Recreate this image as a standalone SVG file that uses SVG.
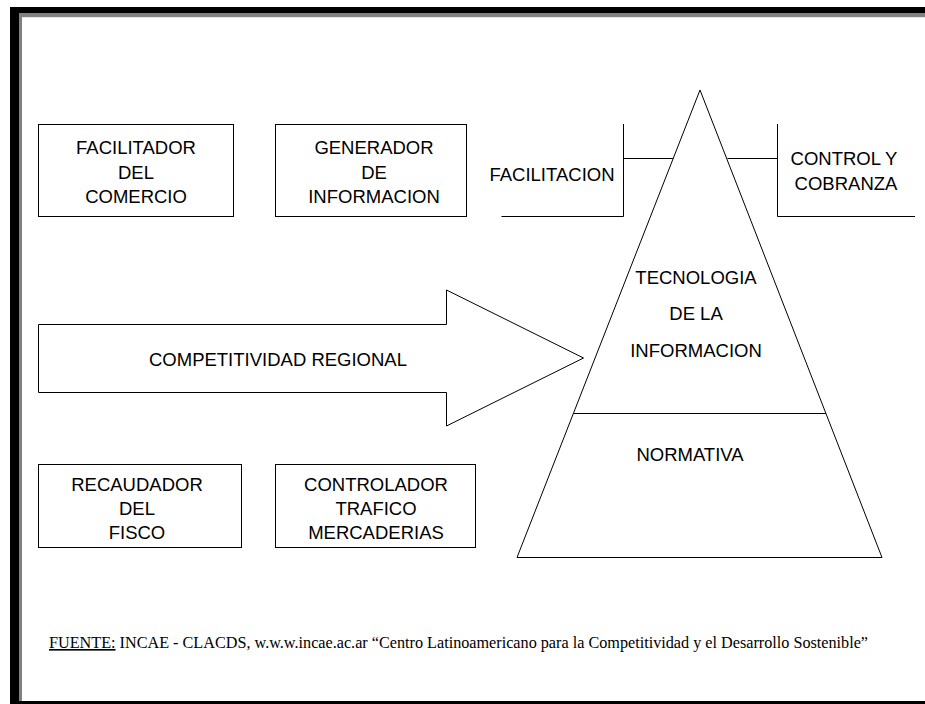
<svg xmlns="http://www.w3.org/2000/svg" width="925" height="704" viewBox="0 0 925 704">
<style>
.bx{fill:#fff;stroke:#000;stroke-width:1}
.ln{fill:none;stroke:#000;stroke-width:1}
.t{font-family:"Liberation Sans",Arial,sans-serif;font-size:18.5px;fill:#000;text-anchor:middle}
.f{font-family:"Liberation Serif","Times New Roman",serif;font-size:16.2px;fill:#000}
</style>
<rect x="0" y="0" width="925" height="704" fill="#fff"/>
<g id="frame">
<rect x="10" y="7" width="915" height="6" fill="#000"/>
<rect x="10" y="7" width="9" height="697" fill="#000"/>
<rect x="19" y="13" width="906" height="4" fill="#808080"/>
<rect x="19" y="13" width="3" height="688" fill="#808080"/>
<rect x="22" y="17" width="903" height="1" fill="#e4e4e4"/>
<rect x="10" y="701" width="915" height="3" fill="#000"/>
</g>
<g id="facilitador">
<rect class="bx" x="38.5" y="124.5" width="195" height="92"/>
<text class="t" x="136" y="154">FACILITADOR</text>
<text class="t" x="136" y="179">DEL</text>
<text class="t" x="136" y="203">COMERCIO</text>
</g>
<g id="generador">
<rect class="bx" x="275.5" y="124.5" width="191" height="92"/>
<text class="t" x="374" y="154">GENERADOR</text>
<text class="t" x="374" y="179">DE</text>
<text class="t" x="374" y="203">INFORMACION</text>
</g>
<g id="recaudador">
<rect class="bx" x="38.5" y="464.5" width="203" height="83"/>
<text class="t" x="137" y="491">RECAUDADOR</text>
<text class="t" x="137" y="515">DEL</text>
<text class="t" x="137" y="539">FISCO</text>
</g>
<g id="controlador">
<rect class="bx" x="275.5" y="464.5" width="200" height="83"/>
<text class="t" x="376" y="491">CONTROLADOR</text>
<text class="t" x="376" y="515">TRAFICO</text>
<text class="t" x="376" y="539">MERCADERIAS</text>
</g>
<g id="competitividad">
<polygon class="bx" points="38.5,324.5 446.5,324.5 446.5,290 583.5,358 446.5,426 446.5,392.5 38.5,392.5"/>
<text class="t" x="278" y="366">COMPETITIVIDAD REGIONAL</text>
</g>
<g id="piramide">
<polygon class="bx" points="700,90 882,557.5 517,557.5"/>
<line class="ln" x1="574" y1="413.5" x2="826" y2="413.5"/>
<text class="t" x="696" y="284">TECNOLOGIA</text>
<text class="t" x="696" y="320">DE LA</text>
<text class="t" x="696" y="357">INFORMACION</text>
<text class="t" x="690" y="461">NORMATIVA</text>
</g>
<g id="facilitacion">
<polyline class="ln" points="501.5,216.5 623.5,216.5 623.5,124"/>
<text class="t" x="552" y="181">FACILITACION</text>
</g>
<g id="control">
<polyline class="ln" points="777.5,124 777.5,216.5 915,216.5"/>
<text class="t" x="844" y="165">CONTROL Y</text>
<text class="t" x="846" y="190">COBRANZA</text>
</g>
<g id="connectors">
<line class="ln" x1="623.5" y1="158.5" x2="673" y2="158.5"/>
<line class="ln" x1="727.5" y1="158.5" x2="777.5" y2="158.5"/>
</g>
<g id="fuente">
<text class="f" x="49" y="648"><tspan text-decoration="underline">FUENTE:</tspan> INCAE - CLACDS, w.w.w.incae.ac.ar “Centro Latinoamericano para la Competitividad y el Desarrollo Sostenible”</text>
</g>
</svg>
